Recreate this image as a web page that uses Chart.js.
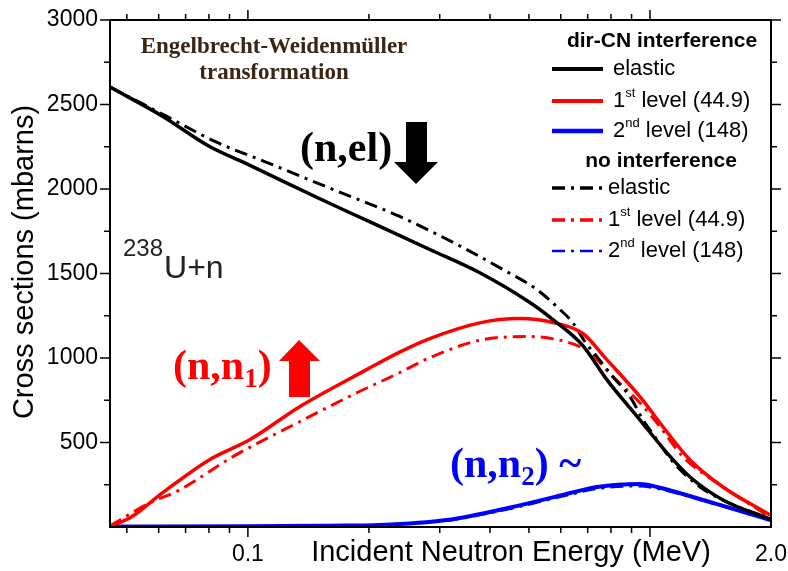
<!DOCTYPE html>
<html>
<head>
<meta charset="utf-8">
<script src="https://cdn.jsdelivr.net/npm/chart.js@4.4.1/dist/chart.umd.min.js"></script>
<style>
  html, body { margin: 0; padding: 0; background: #fff; }
  canvas { display: block; }
</style>
</head>
<body>
<canvas id="chart" width="788" height="571"></canvas>
<script>
// values: energy in MeV, cross sections in mbarns
const elasticE = [0.0454, 0.0613, 0.0801, 0.1, 0.15, 0.2, 0.2834, 0.3774, 0.5027, 0.5736, 0.68, 0.781, 0.944, 1.102, 1.258, 1.519, 1.99];
const elasticCN = [2603, 2431, 2253, 2146, 1945, 1808, 1642, 1504, 1328, 1227, 1075, 872, 634, 439, 296, 160, 47];

const elasticNoE = [0.0454, 0.0627, 0.0836, 0.1113, 0.1625, 0.2385, 0.3423, 0.4306, 0.5233, 0.597, 0.643, 0.689, 0.738, 0.809, 0.892, 0.961, 1.029, 1.141, 1.332, 1.555, 1.99];
const elasticNo = [2603, 2431, 2277, 2158, 1998, 1838, 1654, 1524, 1405, 1287, 1209, 1097, 1008, 889, 771, 634, 534, 385, 237, 148, 47];

const level1E = [0.0454, 0.0508, 0.0613, 0.0801, 0.101, 0.1345, 0.1974, 0.2385, 0.2834, 0.3774, 0.4746, 0.5736, 0.681, 0.781, 0.944, 1.077, 1.258, 1.519, 1.99];
const level1CN = [6, 53, 202, 397, 516, 712, 931, 1035, 1115, 1208, 1233, 1210, 1145, 990, 771, 593, 397, 237, 71];

const level1NoE = [0.0454, 0.0569, 0.0676, 0.0916, 0.1345, 0.1865, 0.2385, 0.2834, 0.3774, 0.5027, 0.5869, 0.6696, 0.7088, 0.809, 0.944, 1.059, 1.208, 1.468, 1.99];
const level1No = [6, 142, 219, 415, 623, 794, 913, 1002, 1105, 1127, 1109, 1067, 1032, 889, 735, 593, 415, 261, 59];

const level2E = [0.0454, 0.1, 0.16, 0.2127, 0.3123, 0.456, 0.607, 0.738, 0.944, 1.041, 1.435, 1.744, 1.99];
const level2CN = [3, 4, 8, 12, 41, 119, 190, 237, 255, 237, 142, 83, 41];
const level2No = [3, 4, 6, 10, 36, 110, 180, 224, 240, 226, 138, 80, 40];

const xTickLabels = [0.1, 2];
const xMajorTicks = [0.1, 1];
const xMinorTicks = [0.05, 0.06, 0.07, 0.08, 0.09, 0.2, 0.3, 0.4, 0.5, 0.6, 0.7, 0.8, 0.9];
const yTickLabels = [500, 1000, 1500, 2000, 2500, 3000];
const yMinorTicks = [250, 750, 1250, 1750, 2250, 2750];

const legendRows = [
  ['elastic'],
  ['1', 'st', ' level (44.9)'],
  ['2', 'nd', ' level (148)']
];

const pts = (xs, ys) => xs.map((x, i) => ({ x: x, y: ys[i] }));
const dashDot = [13, 6, 3, 6];

const datasets = [
  { label: 'elastic', data: pts(elasticE, elasticCN), borderColor: '#000', borderWidth: 3.5 },
  { label: '1st level', data: pts(level1E, level1CN), borderColor: '#ff0000', borderWidth: 3.5 },
  { label: '2nd level', data: pts(level2E, level2CN), borderColor: '#0000ff', borderWidth: 4 },
  { label: 'elastic no', data: pts(elasticNoE, elasticNo), borderColor: '#000', borderWidth: 3, borderDash: dashDot },
  { label: '1st level no', data: pts(level1NoE, level1No), borderColor: '#ff0000', borderWidth: 3, borderDash: dashDot },
  { label: '2nd level no', data: pts(level2E, level2No), borderColor: '#0000ff', borderWidth: 2, borderDash: dashDot }
];
datasets.forEach(d => {
  d.pointRadius = 0;
  d.fill = false;
  d.cubicInterpolationMode = 'monotone';
});

function text(ctx, str, x, y, font, color, align) {
  ctx.font = font;
  ctx.fillStyle = color;
  ctx.textAlign = align || 'left';
  ctx.textBaseline = 'middle';
  ctx.fillText(str, x, y);
  return ctx.measureText(str).width;
}

const decor = {
  id: 'decor',
  afterDraw(chart) {
    const ctx = chart.ctx;
    const a = chart.chartArea;
    const xs = chart.scales.x, ys = chart.scales.y;
    ctx.save();

    // frame and ticks on all four sides
    ctx.strokeStyle = '#000';
    ctx.lineWidth = 2;
    ctx.strokeRect(a.left, a.top, a.right - a.left, a.bottom - a.top);
    ctx.lineWidth = 1.5;
    const seg = (x1, y1, x2, y2) => { ctx.beginPath(); ctx.moveTo(x1, y1); ctx.lineTo(x2, y2); ctx.stroke(); };
    const xt = (v, len) => { const p = xs.getPixelForValue(v); seg(p, a.bottom, p, a.bottom + len); seg(p, a.top, p, a.top - len); };
    const yt = (v, len) => { const p = ys.getPixelForValue(v); seg(a.left, p, a.left - len, p); seg(a.right, p, a.right + len, p); };
    xMajorTicks.forEach(v => xt(v, 10));
    xMinorTicks.forEach(v => xt(v, 6));
    yTickLabels.forEach(v => yt(v, 10));
    yMinorTicks.forEach(v => yt(v, 6));

    // axis titles
    text(ctx, 'Incident Neutron Energy (MeV)', 511, 553, '29px "Liberation Sans", Arial', '#000', 'center');
    ctx.save();
    ctx.translate(25, 262);
    ctx.rotate(-Math.PI / 2);
    text(ctx, 'Cross sections (mbarns)', 0, 0, '29px "Liberation Sans", Arial', '#000', 'center');
    ctx.restore();

    // annotations
    const serifB = s => 'bold ' + s + 'px "Liberation Serif", "Times New Roman", serif';
    text(ctx, 'Engelbrecht-Weidenmüller', 274, 47, serifB(23), '#3a2614', 'center');
    text(ctx, 'transformation', 274, 73, serifB(23), '#3a2614', 'center');

    text(ctx, '(n,el)', 300, 150, serifB(42), '#000');
    ctx.fillStyle = '#000';
    ctx.beginPath();
    ctx.moveTo(406, 122); ctx.lineTo(427, 122); ctx.lineTo(427, 162); ctx.lineTo(438, 162);
    ctx.lineTo(416, 184); ctx.lineTo(394, 162); ctx.lineTo(406, 162); ctx.closePath();
    ctx.fill();

    let w = text(ctx, '(n,n', 173, 368, serifB(42), '#ff0000');
    w += text(ctx, '1', 173 + w, 380, serifB(27), '#ff0000');
    text(ctx, ')', 173 + w, 368, serifB(42), '#ff0000');
    ctx.fillStyle = '#ff0000';
    ctx.beginPath();
    ctx.moveTo(299, 340); ctx.lineTo(320, 361); ctx.lineTo(310, 361); ctx.lineTo(310, 397);
    ctx.lineTo(289, 397); ctx.lineTo(289, 361); ctx.lineTo(279, 361); ctx.closePath();
    ctx.fill();

    w = text(ctx, '(n,n', 450, 466, serifB(42), '#0000ff');
    w += text(ctx, '2', 450 + w, 478, serifB(27), '#0000ff');
    text(ctx, ') ~', 450 + w, 466, serifB(42), '#0000ff');

    w = text(ctx, '238', 123, 249, '24px "Liberation Sans", Arial', '#222');
    text(ctx, 'U+n', 123 + w + 1, 269, '32px "Liberation Sans", Arial', '#222');

    // legend
    const sans = '22px "Liberation Sans", Arial';
    text(ctx, 'dir-CN interference', 662, 41, 'bold 21px "Liberation Sans", Arial', '#000', 'center');
    text(ctx, 'no interference', 661, 161, 'bold 21px "Liberation Sans", Arial', '#000', 'center');
    const rowY = [69, 101, 131, 188, 220, 251];
    chart.data.datasets.forEach((d, i) => {
      const y = rowY[i];
      ctx.strokeStyle = d.borderColor;
      ctx.lineWidth = d.borderWidth + 0.5;
      ctx.setLineDash(d.borderDash || []);
      seg(552, y, 603, y);
      ctx.setLineDash([]);
      const parts = legendRows[i % 3];
      let x = i < 3 ? 613 : 608;
      x += text(ctx, parts[0], x, y, sans, '#000');
      if (parts.length > 1) {
        x += text(ctx, parts[1], x, y - 8, '13px "Liberation Sans", Arial', '#000');
        text(ctx, parts[2], x, y, sans, '#000');
      }
    });
    ctx.restore();
  }
};

const tickFont = { family: '"Liberation Sans", Arial', size: 23 };

new Chart(document.getElementById('chart'), {
  type: 'line',
  data: { datasets: datasets },
  options: {
    responsive: false,
    animation: false,
    layout: { padding: { top: 20, right: 17, left: 0, bottom: 0 } },
    plugins: { legend: { display: false }, tooltip: { enabled: false } },
    scales: {
      x: {
        type: 'logarithmic',
        min: 0.0454,
        max: 2.0,
        grid: { display: false, drawTicks: false },
        border: { display: false },
        afterBuildTicks: s => { s.ticks = xTickLabels.map(v => ({ value: v })); },
        afterFit: s => { s.height = 44; s.paddingLeft = 0; s.paddingRight = 0; },
        ticks: {
          autoSkip: false,
          maxRotation: 0,
          padding: 14,
          color: '#000',
          font: tickFont,
          callback: v => (v === 2 ? '2.0' : String(v))
        }
      },
      y: {
        type: 'linear',
        min: 0,
        max: 3000,
        grid: { display: false, drawTicks: false },
        border: { display: false },
        afterBuildTicks: s => { s.ticks = yTickLabels.map(v => ({ value: v })); },
        afterFit: s => { s.width = 110; s.paddingTop = 0; s.paddingBottom = 0; },
        ticks: { padding: 12, color: '#000', font: tickFont, callback: v => String(v) }
      }
    }
  },
  plugins: [decor]
});
</script>
</body>
</html>
